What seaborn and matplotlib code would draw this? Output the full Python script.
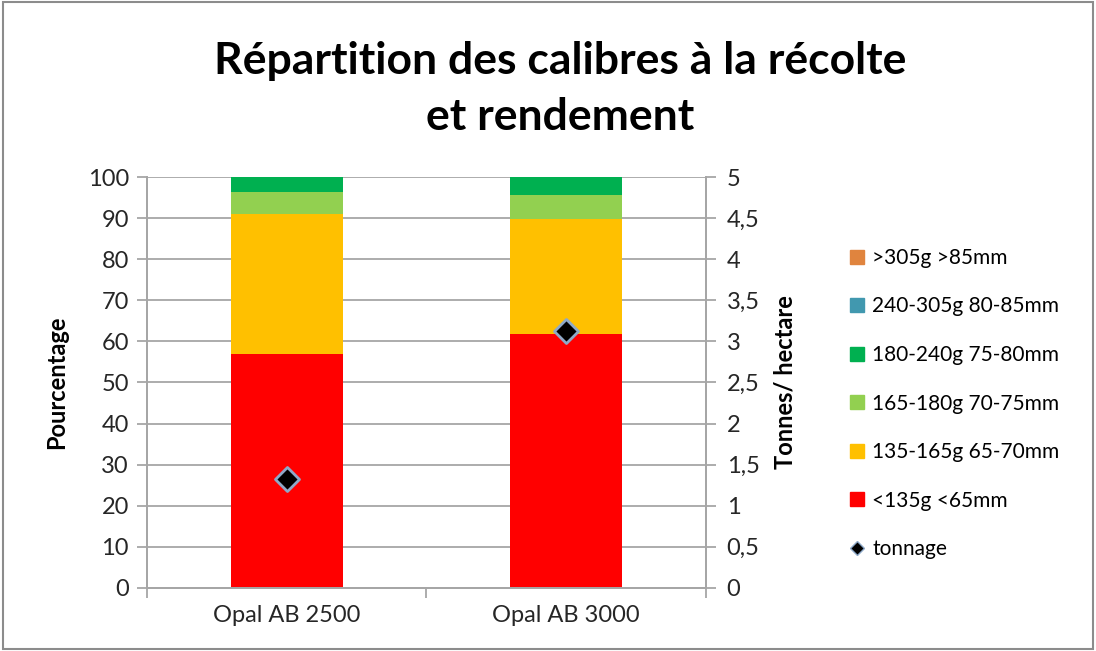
import numpy as np
import pandas as pd
import matplotlib
matplotlib.use("Agg")
import matplotlib.pyplot as plt
import matplotlib.ticker as mticker
from matplotlib.patches import Rectangle
from matplotlib.lines import Line2D
import seaborn as sns

sns.set_theme(style="white")
plt.rcParams["font.family"] = ["Lato", "DejaVu Sans"]
plt.rcParams["text.color"] = "black"
plt.rcParams["axes.labelcolor"] = "black"
plt.rcParams["xtick.color"] = "#262626"
plt.rcParams["ytick.color"] = "#262626"

# ---------------------------------------------------------------------------
# Data
# ---------------------------------------------------------------------------
varieties = ["Opal AB 2500", "Opal AB 3000"]
calibres = [">305g >85mm", "240-305g 80-85mm", "180-240g 75-80mm",
            "165-180g 70-75mm", "135-165g 65-70mm", "<135g <65mm"]
colors = ["#E0843E", "#4198AF", "#00B050", "#92D050", "#FFC000", "#FF0000"]

pct_lt135 = [57.0, 61.7]
pct_135_165 = [34.0, 28.1]
pct_165_180 = [5.3, 5.8]
pct_180_240 = [3.7, 4.4]
pct_240_305 = [0.0, 0.0]
pct_gt305 = [0.0, 0.0]
tonnage = [1.33, 3.13]

# bottom -> top stacking order
stack = [pct_lt135, pct_135_165, pct_165_180, pct_180_240, pct_240_305, pct_gt305]
stack_colors = colors[::-1]

fig = plt.figure(figsize=(10.96, 6.51), dpi=100)
ax = fig.add_axes([0.134, 0.097, 0.510, 0.631])

grid_c = "#A6A6A6"
ax.set_axisbelow(True)
ax.yaxis.grid(True, color=grid_c, linewidth=1.3)

# stacked bars: draw cumulative totals from the top layer down
cum = np.cumsum(np.array(stack), axis=0)
for i in range(len(stack) - 1, -1, -1):
    df = pd.DataFrame({"variety": varieties, "value": cum[i]})
    sns.barplot(data=df, x="variety", y="value", color=stack_colors[i],
                saturation=1, width=0.4, ax=ax, linewidth=0, zorder=2)

ax.set_ylim(0, 100)
ax.set_xlim(-0.5, 1.5)
ax.set_yticks(np.arange(0, 101, 10))
ax.set_xticks([-0.5, 0.5, 1.5], minor=True)
ax.set_xticks([0, 1])
ax.set_xticklabels(varieties, fontsize=17)
ax.tick_params(axis="x", which="major", length=0, pad=12)
ax.tick_params(axis="x", which="minor", length=7, color=grid_c, width=1.3, bottom=True)
ax.tick_params(axis="y", length=7, color=grid_c, width=1.3, left=True, labelsize=17,
               pad=6, labelcolor="#262626")
ax.set_xlabel("")
ax.set_ylabel("Pourcentage", fontsize=17, fontweight="bold", labelpad=14)
for side, sp in ax.spines.items():
    sp.set_color(grid_c)
    sp.set_linewidth(1.3)
ax.spines["top"].set_visible(False)

ax2 = ax.twinx()
sns.scatterplot(x=[0, 1], y=tonnage, marker="D", s=150, color="black",
                edgecolor="#8EA9C8", linewidth=2, ax=ax2, zorder=5, legend=False)
ax2.set_ylim(0, 5)
ax2.set_yticks(np.arange(0, 5.01, 0.5))
ax2.yaxis.set_major_formatter(
    mticker.FuncFormatter(lambda v, p: f"{v:g}".replace(".", ",")))
ax2.tick_params(axis="y", length=7, color=grid_c, width=1.3, right=True, labelsize=17,
                pad=8, labelcolor="#262626")
ax2.set_ylabel("Tonnes/ hectare", fontsize=17, fontweight="bold", labelpad=10)
for side, sp in ax2.spines.items():
    sp.set_color(grid_c)
    sp.set_linewidth(1.3)
ax2.spines["top"].set_visible(False)
ax2.grid(False)

fig.suptitle("Répartition des calibres à la récolte\net rendement",
             x=0.511, y=0.937, fontsize=32, fontweight="bold", linespacing=1.48)

handles = [Line2D([0], [0], marker="s", linestyle="none", markersize=10,
                  markerfacecolor=c, markeredgecolor=c) for c in colors]
handles.append(Line2D([0], [0], marker="D", linestyle="none", markersize=7.5,
                      markerfacecolor="black", markeredgecolor="#8EA9C8"))
fig.legend(handles, calibres + ["tonnage"], loc="upper left",
           bbox_to_anchor=(0.757, 0.648), frameon=False, fontsize=15,
           handlelength=0.8, handletextpad=0.35, labelspacing=1.37)

fig.patches.append(Rectangle((0.003, 0.003), 0.994, 0.994, transform=fig.transFigure,
                             fill=False, edgecolor="#8C8C8C", linewidth=1.5))

fig.savefig("out.png", dpi=100, facecolor="white")
